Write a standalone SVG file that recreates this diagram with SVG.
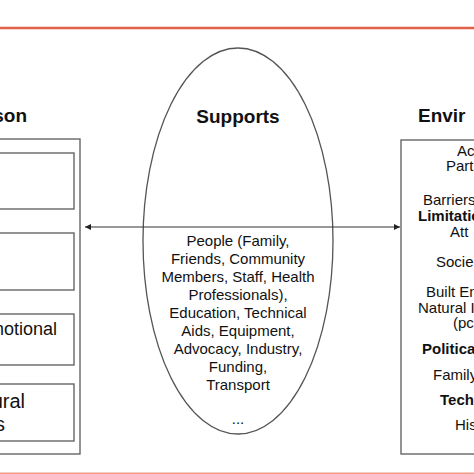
<svg xmlns="http://www.w3.org/2000/svg" width="474" height="474" viewBox="0 0 474 474">
<defs>
<style>
.box{fill:#fff;stroke:#666;stroke-width:1.4}
.t{font-family:"Liberation Sans",Arial,sans-serif;fill:#111}
.h{font-family:"Liberation Sans",Arial,sans-serif;font-weight:bold;font-size:19px;fill:#111}
.s{font-size:15px}
.l{font-size:18px}
.xl{font-size:20px}
.b{font-weight:bold}
.red{stroke:#e2604a;stroke-width:2.5}
</style>
<marker id="ah" viewBox="0 0 10 10" refX="10" refY="5" markerWidth="7" markerHeight="6" orient="auto-start-reverse" markerUnits="userSpaceOnUse">
<path d="M0,0 L10,5 L0,10 z" fill="#222"/>
</marker>
</defs>
<rect width="474" height="474" fill="#fff"/>
<line class="red" x1="0" y1="28" x2="474" y2="28"/>
<rect x="0" y="472.5" width="474" height="1.5" fill="#f39a88"/>

<g id="person">
<text class="h" x="27" y="122" text-anchor="end">Person</text>
<rect class="box" x="-20" y="139" width="100" height="315"/>
<rect class="box" x="-20" y="153" width="94" height="56"/>
<rect class="box" x="-20" y="233" width="94" height="57"/>
<rect class="box" x="-20" y="314" width="94" height="51"/>
<text class="t l" x="57" y="335" text-anchor="end">motional</text>
<rect class="box" x="-20" y="384" width="94" height="57"/>
<text class="t xl" x="25" y="408" text-anchor="end">ural</text>
<text class="t xl" x="5" y="431" text-anchor="end">s</text>
</g>

<g id="supports">
<ellipse cx="238" cy="241" rx="95" ry="193" fill="none" stroke="#555" stroke-width="1.3"/>
<text class="h" x="238" y="123" text-anchor="middle">Supports</text>
<g class="t s" text-anchor="middle">
<text x="238" y="246">People (Family,</text>
<text x="238" y="264">Friends, Community</text>
<text x="238" y="282">Members, Staff, Health</text>
<text x="238" y="300">Professionals),</text>
<text x="238" y="318">Education, Technical</text>
<text x="238" y="336">Aids, Equipment,</text>
<text x="238" y="354">Advocacy, Industry,</text>
<text x="238" y="372">Funding,</text>
<text x="238" y="390">Transport</text>
<text x="238" y="424">...</text>
</g>
</g>

<g id="environment">
<text class="h" x="418" y="122">Envir</text>
<rect class="box" x="401" y="140" width="100" height="314"/>
<g class="t s">
<text x="457" y="156">Ac</text>
<text x="446" y="171">Part</text>
<text x="423" y="205">Barriers</text>
<text x="418" y="221" class="b">Limitatio</text>
<text x="450" y="237">Att</text>
<text x="436" y="267">Socie</text>
<text x="426" y="297">Built En</text>
<text x="418" y="313">Natural I</text>
<text x="453" y="328">(pc</text>
<text x="422" y="354" class="b">Political</text>
<text x="433" y="380">Family</text>
<text x="440" y="405" class="b">Tech</text>
<text x="455" y="430">His</text>
</g>
</g>

<g id="connectors">
<line x1="85" y1="227" x2="400" y2="227" stroke="#333" stroke-width="1.2" marker-start="url(#ah)" marker-end="url(#ah)"/>
</g>
</svg>
